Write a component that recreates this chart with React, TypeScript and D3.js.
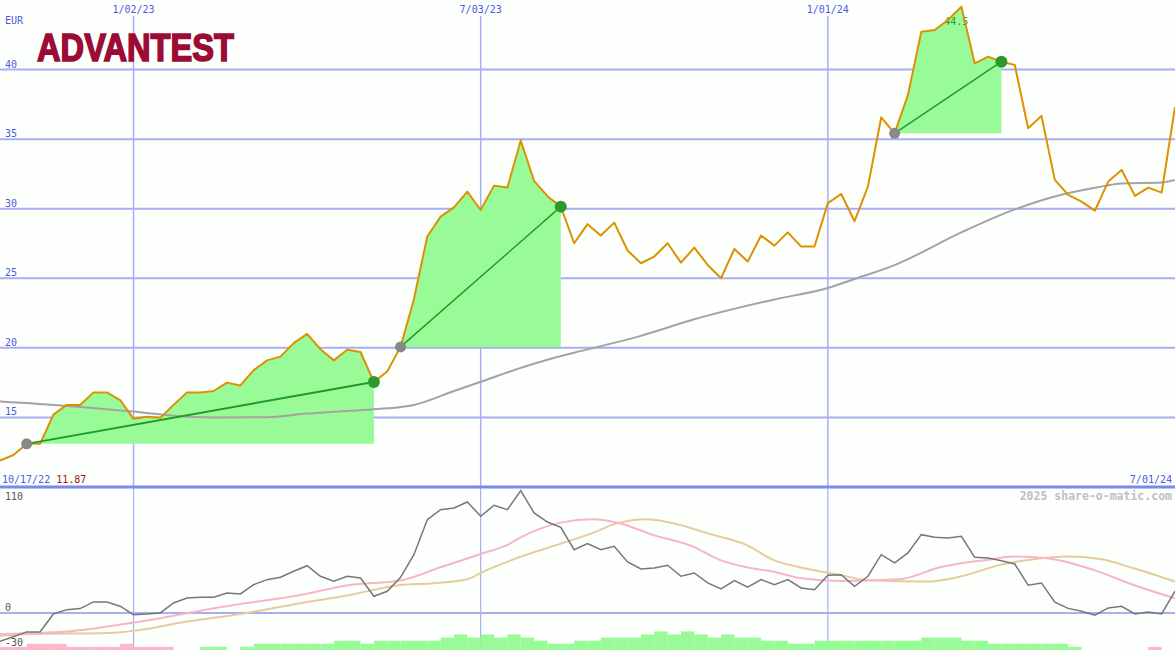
import React from "react";
import * as d3 from "d3";

// ---------- DATA ----------
const startDate = new Date(Date.UTC(2022, 9, 24));
const firstLabel = "10/17/22";
const firstValue = "11.87";
const lastLabel = "7/01/24";
const currency = "EUR";
const logoText = "ADVANTEST";
const watermark = "2025 share-o-matic.com";

// weekly closing prices (EUR)
const prices = [
  11.9, 12.3, 13.1, 13.1, 15.2, 15.9, 15.9, 16.8, 16.8, 16.25,
  14.9, 15.05, 14.97, 15.9, 16.8, 16.8, 16.9, 17.5, 17.3, 18.4,
  19.1, 19.37, 20.34, 21.0, 19.9, 19.1, 19.86, 19.7, 17.55, 18.3,
  20.07, 23.5, 28.0, 29.43, 30.1, 31.23, 29.91, 31.66, 31.52, 34.9,
  32.0, 30.9, 30.15, 27.52, 28.89, 28.07, 29.0, 27.0, 26.08, 26.56,
  27.52, 26.13, 27.2, 25.96, 25.0, 27.11, 26.2, 28.07, 27.35, 28.3,
  27.28, 27.28, 30.4, 31.06, 29.1, 31.59, 36.57, 35.42, 38.18, 42.72,
  42.84, 43.56, 44.52, 40.45, 40.93, 40.57, 40.33, 35.78, 36.67, 32.07,
  31.0, 30.51, 29.86, 31.95, 32.79, 30.92, 31.52, 31.16, 37.3,
];

// long moving average (grey), read at these week offsets
const maWeeks = [0, 5, 10, 13, 16, 20, 23, 25, 28, 31, 34, 36, 39, 41, 43, 48, 52, 58, 62, 64, 67, 72, 76, 79, 82, 84, 87, 88];
const maValues = [16.14, 15.83, 15.42, 15.12, 15.0, 15.02, 15.28, 15.4, 15.58, 15.9, 16.9, 17.56, 18.56, 19.15, 19.65, 20.86, 22.05, 23.48, 24.3, 24.95, 25.95, 28.3, 29.95, 30.88, 31.5, 31.82, 31.88, 32.07];

// trades: entry week / exit week
const tradeEntries = [2, 30, 67];
const tradeExits = [28, 42, 75];

// lower panel oscillator (weekly)
const oscValues = [
  -24.9, -21, -16.7, -16.7, -0.9, 2.9, 3.8, 9.7, 9.7, 5.9,
  -1.5, -0.9, 0, 8.8, 13.2, 13.8, 13.8, 17.6, 16.7, 24.9,
  29.3, 31.4, 36.7, 41.6, 32.3, 27.9, 32.3, 30.8, 14.7, 19.1,
  31.4, 51.3, 82.1, 90.9, 92.4, 97.7, 85.1, 94.8, 90.9, 107.7,
  88, 80, 75.4, 55.7, 61, 55.7, 58.7, 44.9, 38.7, 39.6,
  42, 32.3, 35.2, 26.4, 21.1, 28.4, 22.6, 29.3, 24.9, 29.3,
  22, 20.5, 33.2, 33.7, 23.5, 32.3, 51.3, 44, 52.8, 68.9,
  66.6, 66, 67.5, 49, 48.4, 46, 43.1, 24.4, 26.4, 9.4,
  4, 1.5, -2, 4.4, 5.9, -0.9, 0.9, -0.9, 19.1,
];

const pinkWeeks = [0, 5, 10, 17.5, 22.5, 26.2, 30, 33, 36, 38, 39, 42, 44.4, 46.4, 48.9, 51.9, 53.9, 55.9, 57.9, 60, 63, 67.4, 70.4, 73.9, 75.9, 78.4, 81.9, 84.9, 88];
const pinkValues = [-18.5, -16.4, -8.5, 7, 15.8, 24.6, 28.5, 40.2, 51.9, 59.9, 66.6, 79.5, 82.5, 79, 68.7, 58.4, 46.7, 40.2, 36.4, 30.5, 28.2, 29.7, 40.2, 46.7, 49.6, 48.2, 37.9, 24.6, 12.9];

const tanWeeks = [0, 2.5, 7.5, 10, 14, 17.5, 22.5, 26.2, 30, 32.5, 35, 36.2, 38.7, 41.7, 44, 46.4, 48.4, 50.4, 53.4, 55.9, 57.9, 59.9, 62.9, 64.9, 69.4, 71.9, 74.9, 77.4, 79.9, 82.4, 84.9, 88];
const tanValues = [-20.2, -18.5, -17.9, -15.8, -7.6, -1.8, 8.5, 15.8, 24.6, 26.1, 29.7, 36.4, 48.2, 59.9, 68.7, 79.5, 82.5, 79, 68.7, 59.9, 46.7, 40.2, 33.5, 29, 27.6, 32, 42.3, 47.3, 49.6, 47.5, 39.3, 27.6];

// weekly histogram levels (positive = green, negative = pink)
const barLevels = [
  -1, -1, -2, -2, -2, -1, -1, -1, -1, -2,
  -1, -1, -1, 0, 0, 1, 1, 0, 1, 2,
  2, 2, 2, 2, 2, 3, 3, 2, 3, 3,
  3, 3, 3, 4, 5, 4, 5, 4, 5, 4,
  3, 2, 2, 3, 3, 4, 4, 4, 5, 6,
  5, 6, 5, 4, 5, 4, 4, 3, 3, 2,
  2, 3, 3, 3, 3, 3, 3, 3, 3, 4,
  4, 4, 3, 3, 2, 2, 2, 2, 2, 2,
  1, 0, 0, 0, 0, 0, -1, 0,
];

const priceTicks = [15, 20, 25, 30, 35, 40];
const gridDates = ["2023-01-02", "2023-07-03", "2024-01-01"];
const gridLabels = ["1/02/23", "7/03/23", "1/01/24"];
const lowerTicks = [110, 0, -30];

// ---------- CHART ----------
const W = 1175;
const H = 650;
const MONO = "'DejaVu Sans Mono', monospace";
const BLUE_TXT = "#4a5ae8";
const GRID = "#a6aef4";

export default function App() {
  const weekToDate = (w: number) => new Date(startDate.getTime() + w * 7 * 86400000);
  const x = d3.scaleUtc().domain([startDate, new Date(Date.UTC(2024, 6, 1))]).range([0, W]);
  const xw = (w: number) => x(weekToDate(w));
  const y = d3.scaleLinear().domain([10, 45]).range([487, 0]);
  const yl = d3.scaleLinear().domain([-30, 110]).range([647, 488]);

  const priceLine = d3.line<number>().x((_, i) => xw(i)).y((d) => y(d))(prices) || "";
  const maLine = d3
    .line<number>()
    .x((_, i) => xw(maWeeks[i]))
    .y((d) => y(d))
    .curve(d3.curveMonotoneX)(maValues) || "";

  const oscLine = d3.line<number>().x((_, i) => xw(i)).y((d) => yl(d))(oscValues) || "";
  const pinkLine = d3
    .line<number>()
    .x((_, i) => xw(pinkWeeks[i]))
    .y((d) => yl(d))
    .curve(d3.curveMonotoneX)(pinkValues) || "";
  const tanLine = d3
    .line<number>()
    .x((_, i) => xw(tanWeeks[i]))
    .y((d) => yl(d))
    .curve(d3.curveMonotoneX)(tanValues) || "";

  const fills = tradeEntries.map((e, k) => {
    const ex = tradeExits[k];
    const base = prices[e];
    const idx = d3.range(e, ex + 1);
    return (
      d3
        .area<number>()
        .x((i) => xw(i))
        .y0(y(base))
        .y1((i) => y(Math.max(prices[i], base)))(idx) || ""
    );
  });

  const peakIdx = d3.maxIndex(prices);

  return (
    <svg
      width={W}
      height={H}
      style={{ position: "absolute", left: 0, top: 0, display: "block" }}
      xmlns="http://www.w3.org/2000/svg"
    >
      <rect x={0} y={0} width={W} height={H} fill="#fdfffd" />

      {/* main horizontal grid */}
      {priceTicks.map((t) => (
        <g key={"pt" + t}>
          <line x1={0} x2={W} y1={y(t)} y2={y(t)} stroke={GRID} strokeWidth={2} />
          <text x={5} y={y(t) - 2} fontFamily={MONO} fontSize={10} fill={BLUE_TXT}>
            {t}
          </text>
        </g>
      ))}
      {/* vertical date grid */}
      {gridDates.map((d, k) => {
        const xx = x(new Date(d + "T00:00:00Z"));
        return (
          <g key={"gd" + d}>
            <line x1={xx} x2={xx} y1={16} y2={487} stroke={GRID} strokeWidth={1.5} />
            <line x1={xx} x2={xx} y1={488} y2={H} stroke={GRID} strokeWidth={1.2} />
            <text x={xx} y={13} textAnchor="middle" fontFamily={MONO} fontSize={10} fill={BLUE_TXT}>
              {gridLabels[k]}
            </text>
          </g>
        );
      })}

      <text x={5} y={24} fontFamily={MONO} fontSize={10} fill={BLUE_TXT}>
        {currency}
      </text>

      {/* logo */}
      <text
        x={37}
        y={61}
        fontFamily="'Liberation Sans', Arial, sans-serif"
        fontWeight="bold"
        fontSize={38}
        fill="#9b0b35"
        stroke="#9b0b35"
        strokeWidth={1.6}
        strokeLinejoin="miter"
        textLength={197}
        lengthAdjust="spacingAndGlyphs"
      >
        {logoText}
      </text>

      {/* trade fills */}
      {fills.map((p, k) => (
        <path key={"f" + k} d={p} fill="#98fb98" stroke="none" />
      ))}

      {/* grey MA */}
      <path d={maLine} fill="none" stroke="#a3a3a3" strokeWidth={2} />

      {/* peak label */}
      <text x={xw(peakIdx) - 5} y={25} textAnchor="middle" fontFamily={MONO} fontSize={10} fill="#2e9a2e">
        {prices[peakIdx].toFixed(1)}
      </text>

      {/* price line */}
      <path d={priceLine} fill="none" stroke="#dc9200" strokeWidth={2} strokeLinejoin="round" />

      {/* trade lines and dots */}
      {tradeEntries.map((e, k) => {
        const ex = tradeExits[k];
        return (
          <g key={"t" + k}>
            <line
              x1={xw(e)}
              y1={y(prices[e])}
              x2={xw(ex)}
              y2={y(prices[ex])}
              stroke="#229922"
              strokeWidth={k === 0 ? 2 : 1.4}
            />
            <circle cx={xw(e)} cy={y(prices[e])} r={5.5} fill="#888888" />
            <circle cx={xw(ex)} cy={y(prices[ex])} r={6} fill="#2a9a2a" />
          </g>
        );
      })}

      {/* bottom labels of main panel */}
      <text x={2} y={483} fontFamily={MONO} fontSize={10} fill={BLUE_TXT}>
        {firstLabel}
        <tspan dx={6} fill="#a01818">
          {firstValue}
        </tspan>
      </text>
      <text x={1172} y={483} textAnchor="end" fontFamily={MONO} fontSize={10} fill={BLUE_TXT}>
        {lastLabel}
      </text>

      {/* lower panel */}
      <line x1={0} x2={W} y1={yl(0)} y2={yl(0)} stroke={GRID} strokeWidth={2} />
      {barLevels.map((lv, i) => {
        if (lv === 0) return null;
        const h = Math.abs(lv) * 3.1;
        return (
          <rect
            key={"b" + i}
            x={xw(i)}
            y={H - h}
            width={xw(i + 1) - xw(i)}
            height={h}
            fill={lv > 0 ? "#98fb98" : "#ffb6c8"}
          />
        );
      })}
      <path d={tanLine} fill="none" stroke="#e4cc9c" strokeWidth={2} />
      <path d={pinkLine} fill="none" stroke="#f8b4c8" strokeWidth={2} />
      <path d={oscLine} fill="none" stroke="#777777" strokeWidth={1.5} />

      {lowerTicks.map((t) => (
        <text
          key={"lt" + t}
          x={5}
          y={t === 110 ? 500 : t === 0 ? 611 : 646}
          fontFamily={MONO}
          fontSize={10}
          fill="#555555"
        >
          {t}
        </text>
      ))}

      <text x={1172} y={500} textAnchor="end" fontFamily={MONO} fontSize={11.5} fontWeight="bold" fill="#c0c0c0">
        {watermark}
      </text>

      {/* panel separator */}
      <line x1={0} x2={W} y1={487} y2={487} stroke="#7b88ee" strokeWidth={3} />
    </svg>
  );
}
